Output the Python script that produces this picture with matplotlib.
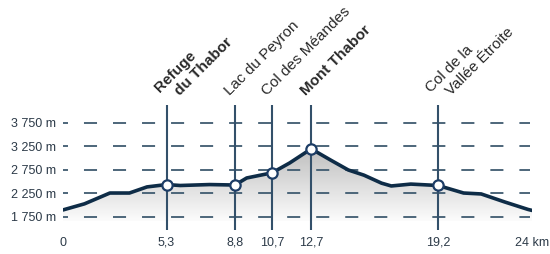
import matplotlib.pyplot as plt
import matplotlib.transforms as mtransforms
from matplotlib.colors import LinearSegmentedColormap
import numpy as np

plt.rcParams['font.family'] = ['Liberation Sans', 'DejaVu Sans']
plt.rcParams['lines.scale_dashes'] = False

# profile (km, altitude m)
dist = [0, 1.1, 2.4, 3.4, 4.3, 5.3, 6.0, 7.5, 8.8, 9.4, 10.7, 11.6, 12.7,
        13.7, 14.6, 15.4, 16.3, 16.8, 17.8, 19.2, 20.5, 21.4, 22.6, 23.8, 24]
alt = [1900, 2030, 2260, 2260, 2390, 2440, 2420, 2440, 2430, 2580, 2690, 2900, 3200,
       2960, 2750, 2640, 2470, 2410, 2450, 2420, 2260, 2240, 2070, 1910, 1890]

# waypoints
wp_km = [5.3, 8.8, 10.7, 12.7, 19.2]
wp_names = [["Refuge", "du Thabor"], ["Lac du Peyron"], ["Col des Méandes"],
            ["Mont Thabor"], ["Col de la", "Vallée Étroite"]]
wp_bold = [True, False, False, True, False]

x_ticks = [0, 5.3, 8.8, 10.7, 12.7, 19.2, 24]
x_labels = ["0", "5,3", "8,8", "10,7", "12,7", "19,2", "24 km"]
y_ticks = [1750, 2250, 2750, 3250, 3750]
y_labels = ["1 750 m", "2 250 m", "2 750 m", "3 250 m", "3 750 m"]

line_col = "#0e2c47"
grid_col = "#3f5b70"
text_col = "#2c3a48"

fig = plt.figure(figsize=(5.5, 2.54), dpi=100)
ax = fig.add_axes([63 / 550, 24 / 254, 469 / 550, 125 / 254])
ax.set_xlim(0, 24)
ax.set_ylim(1473, 4133)

# gradient fill under the profile
fill_bottom = 1660
poly = ax.fill_between(dist, alt, fill_bottom, color="none", lw=0)
grad = np.linspace(0, 1, 256).reshape(-1, 1)
cmap = LinearSegmentedColormap.from_list("g", ["#fcfcfc", "#bdbdbd"])
img = ax.imshow(grad, extent=[0, 24, fill_bottom, 3250], origin="lower",
                aspect="auto", cmap=cmap, zorder=1)
img.set_clip_path(poly.get_paths()[0], transform=ax.transData)

# dashed horizontal grid
for y in y_ticks:
    ax.plot([0, 23.9], [y, y], color=grid_col, lw=1.3,
            linestyle=(5.8, (9.4, 11.5)), dash_capstyle="butt", zorder=2)

# vertical waypoint lines
for k in wp_km:
    ax.axvline(k, color="#33506a", lw=1.5, zorder=3)

# profile line
ax.plot(dist, alt, color=line_col, lw=2.6, zorder=4, solid_capstyle="round")
wp_alt = np.interp(wp_km, dist, alt)
ax.scatter(wp_km, wp_alt, s=55, facecolor="white", edgecolor="#1d3d66",
           linewidth=1.6, zorder=5)

# waypoint labels (second line of a two-line label shifted down-right)
trans = mtransforms.blended_transform_factory(ax.transData, ax.transAxes)
for k, lines, b in zip(wp_km, wp_names, wp_bold):
    for i, txt in enumerate(lines):
        if len(lines) > 1:
            off = (-7, 12) if i == 0 else (13, 9)
        else:
            off = (-5, 9)
        ax.annotate(txt, xy=(k, 1.0), xycoords=trans, xytext=off,
                    textcoords="offset pixels", rotation=45,
                    rotation_mode="anchor", ha="left", va="baseline",
                    fontsize=11, color="#2a2a2a",
                    fontweight="bold" if b else "normal",
                    annotation_clip=False)

ax.set_xticks(x_ticks)
ax.set_xticklabels(x_labels)
ax.set_yticks(y_ticks)
ax.set_yticklabels(y_labels)
ax.tick_params(length=0, labelsize=9, labelcolor=text_col)
ax.tick_params(axis="x", pad=5)
ax.tick_params(axis="y", pad=5)
for s in ax.spines.values():
    s.set_visible(False)

fig.savefig("out.png", dpi=100)
